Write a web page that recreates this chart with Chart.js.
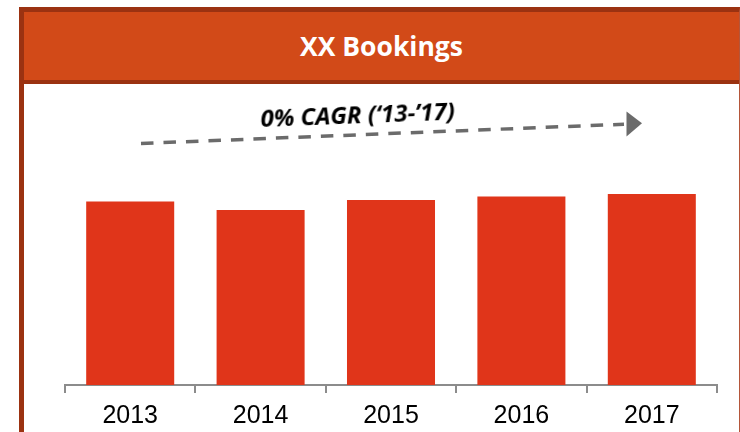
<!DOCTYPE html>
<html>
<head>
<meta charset="utf-8">
<script src="https://cdn.jsdelivr.net/npm/chart.js@4.4.1/dist/chart.umd.min.js"></script>
<style>
  html, body { margin: 0; padding: 0; background: #fff; }
  #wrap { position: relative; width: 740px; height: 432px; overflow: hidden; }
  #frame {
    position: absolute; left: 19px; top: 7px; width: 715px; height: 421px;
    border-left: 5px solid #9B3211; border-top: 5px solid #9B3211;
    border-right: 1px solid #B4563A; border-bottom: 2px solid #A8462A;
    background: #fff;
  }
  #header {
    position: absolute; left: 24px; top: 12px; width: 715px; height: 68px;
    background: #D24A18; border-bottom: 4px solid #9B3211;
    display: flex; align-items: center; justify-content: center;
    color: #fff; font-family: "Open Sans", Lato, sans-serif; font-weight: 700; font-size: 26.5px;
    line-height: 1;
  }
  #cagr {
    position: absolute; left: 261px; top: 106px;
    font-family: "Open Sans", Lato, sans-serif; font-weight: 700; font-style: italic; font-size: 24px;
    line-height: 24px; color: #000; white-space: nowrap;
    transform-origin: left bottom; transform: rotate(-2.2deg);
  }
  canvas { position: absolute; left: 0; top: 0; }
</style>
</head>
<body>
<div id="wrap">
  <div id="frame"></div>
  <div id="header">XX Bookings</div>
  <canvas id="c" width="740" height="439"></canvas>
  <div id="cagr">0% CAGR (‘13-’17)</div>
</div>
<script>
const years = ['2013', '2014', '2015', '2016', '2017'];
const bookings = [64.4, 61.4, 64.9, 66.1, 67.0];
const yMax = 100;

const arrowPlugin = {
  id: 'cagrArrow',
  afterDraw(chart) {
    const ctx = chart.ctx;
    ctx.save();
    ctx.strokeStyle = '#6B6B6B';
    ctx.fillStyle = '#6B6B6B';
    ctx.lineWidth = 3.5;
    ctx.setLineDash([12.5, 10]);
    ctx.beginPath();
    ctx.moveTo(141, 143.5);
    ctx.lineTo(624, 124.2);
    ctx.stroke();
    ctx.setLineDash([]);
    ctx.beginPath();
    ctx.moveTo(642, 123.3);
    ctx.lineTo(626.5, 111.5);
    ctx.lineTo(626.5, 136.5);
    ctx.closePath();
    ctx.fill();
    ctx.restore();
  }
};

new Chart(document.getElementById('c'), {
  type: 'bar',
  data: {
    labels: years,
    datasets: [{
      data: bookings,
      backgroundColor: '#E0351A',
      borderWidth: 0,
      categoryPercentage: 1.0,
      barPercentage: 0.675
    }]
  },
  options: {
    responsive: false,
    animation: false,
    devicePixelRatio: 1,
    layout: { padding: { left: 65, right: 23, top: 100, bottom: 0 } },
    plugins: { legend: { display: false }, tooltip: { enabled: false }, title: { display: false } },
    scales: {
      x: {
        offset: true,
        grid: { display: true, drawOnChartArea: false, drawTicks: true, tickLength: 8, color: '#8C8C8C', lineWidth: 2, offset: true },
        border: { display: true, color: '#8C8C8C', width: 2 },
        ticks: { color: '#000', padding: 8, font: { family: '"Liberation Sans", Arial, sans-serif', size: 25 } }
      },
      y: { display: false, min: 0, max: yMax }
    }
  },
  plugins: [arrowPlugin]
});
</script>
</body>
</html>
